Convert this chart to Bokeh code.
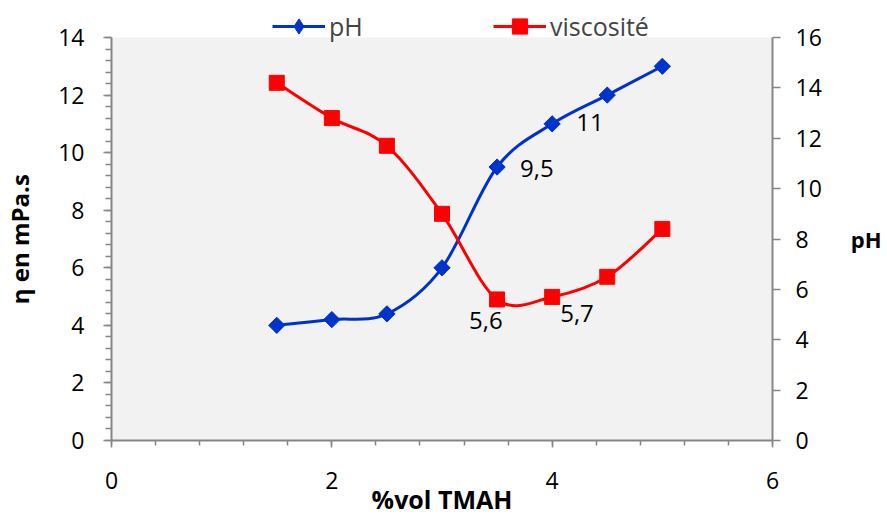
import numpy as np
from bokeh.plotting import figure
from bokeh.models import (Range1d, LinearAxis, SingleIntervalTicker, BoxAnnotation,
                          Legend, LegendItem, ColumnDataSource)
from bokeh.core.properties import value
from bokeh.embed import file_html
from bokeh.resources import INLINE

# ---------------- data ----------------
vol_tmah = [1.5, 2.0, 2.5, 3.0, 3.5, 4.0, 4.5, 5.0]
ph_values = [4.0, 4.2, 4.4, 6.0, 9.5, 11.0, 12.0, 13.0]
viscosity_values = [14.2, 12.8, 11.7, 9.0, 5.6, 5.7, 6.5, 8.4]
x_limits = (0, 6)
left_limits = (0, 14)
right_limits = (0, 16)
ph_labelled = [4, 5]
visc_labelled = [4, 5]
series_names = ["pH", "viscosité"]
x_title = "%vol TMAH"
left_title = "η en mPa.s"
right_title = "pH"

# ---------------- styles ----------------
BLUE = "#0033cc"
RED = "#ff0000"
GRID = "#8c8c8c"
AXIS = "#868686"
FONT = "Open Sans"
W, H = 887, 518
BORDER_L, BORDER_R, BORDER_B = 110, 115, 78
PLOT_TOP = 37          # px from top where the plot area starts
FRAME_H = H - BORDER_B
AREA_H = FRAME_H - PLOT_TOP
stretch = FRAME_H / AREA_H
NAN = [float("nan")]


def smooth_segments(xs, ys):
    xs = np.asarray(xs, float)
    ys = np.asarray(ys, float)
    n = len(xs)
    xp = np.concatenate([[xs[0]], xs, [xs[-1]]])
    yp = np.concatenate([[ys[0]], ys, [ys[-1]]])
    return dict(
        x0=xs[:-1], y0=ys[:-1], x1=xs[1:], y1=ys[1:],
        cx0=xs[:-1] + (xp[2:n + 1] - xp[0:n - 1]) / 6.0,
        cy0=ys[:-1] + (yp[2:n + 1] - yp[0:n - 1]) / 6.0,
        cx1=xs[1:] - (xp[3:n + 2] - xp[1:n]) / 6.0,
        cy1=ys[1:] - (yp[3:n + 2] - yp[1:n]) / 6.0,
    )


p = figure(width=W, height=H,
           x_range=Range1d(*x_limits),
           y_range=Range1d(left_limits[0], left_limits[1] * stretch),
           output_backend="svg", toolbar_location=None,
           min_border_left=BORDER_L, min_border_right=BORDER_R,
           min_border_top=0, min_border_bottom=BORDER_B,
           background_fill_color="white", border_fill_color="white",
           outline_line_color=None)
p.extra_y_ranges = {"right": Range1d(right_limits[0], right_limits[1] * stretch)}

# plot area background
p.add_layout(BoxAnnotation(left=x_limits[0], right=x_limits[1],
                           bottom=left_limits[0], top=left_limits[1],
                           fill_color="#f2f2f2", fill_alpha=1, line_color=None,
                           level="underlay"))

right_axis = LinearAxis(y_range_name="right",
                        ticker=SingleIntervalTicker(interval=2, num_minor_ticks=0))
p.add_layout(right_axis, "right")

left_axis = p.left[0]
bottom_axis = p.below[0]
left_axis.ticker = SingleIntervalTicker(interval=2, num_minor_ticks=5)
bottom_axis.ticker = SingleIntervalTicker(interval=2, num_minor_ticks=5)
left_axis.bounds = left_limits
right_axis.bounds = right_limits

for ax in (left_axis, bottom_axis, right_axis):
    ax.axis_line_color = AXIS
    ax.axis_line_width = 2
    ax.major_tick_line_color = AXIS
    ax.major_tick_line_width = 1.5
    ax.minor_tick_line_color = AXIS
    ax.minor_tick_line_width = 1.5
    ax.major_tick_in = 0
    ax.minor_tick_in = 0
    ax.major_label_text_font = FONT
    ax.major_label_text_font_size = "23px"
    ax.major_label_text_color = "#000000"
    ax.axis_label_text_font = FONT
    ax.axis_label_text_font_style = "bold"
    ax.axis_label_text_color = "#000000"

left_axis.major_tick_out = 8
left_axis.minor_tick_out = 6
left_axis.major_label_standoff = 19
# trailing no-break spaces centre the visible title on the plot area, not the frame
left_axis.axis_label = left_title + "\u00a0" * 6
left_axis.axis_label_text_font_size = "24px"
left_axis.axis_label_standoff = 19

bottom_axis.major_tick_out = 7
bottom_axis.minor_tick_out = 5
bottom_axis.major_label_standoff = 24
bottom_axis.axis_label = x_title
bottom_axis.axis_label_text_font_size = "25px"
bottom_axis.axis_label_standoff = -10

right_axis.major_tick_out = 8
right_axis.minor_tick_out = 0
right_axis.major_label_standoff = 15
right_axis.axis_label = "\n" + right_title
right_axis.axis_label_text_font_size = "22px"
right_axis.axis_label_standoff = 26
try:
    right_axis.axis_label_orientation = "horizontal"
except Exception:
    pass

p.xgrid.visible = False
p.ygrid.ticker = left_axis.ticker
p.ygrid.bounds = x_limits
p.ygrid.grid_line_color = GRID
p.ygrid.grid_line_width = 2

# smooth lines
p.bezier(source=ColumnDataSource(smooth_segments(vol_tmah, ph_values)),
         x0="x0", y0="y0", x1="x1", y1="y1",
         cx0="cx0", cy0="cy0", cx1="cx1", cy1="cy1",
         line_color=BLUE, line_width=3)
p.scatter(vol_tmah, ph_values, marker="square", angle=np.pi / 4, size=11.5,
          fill_color=BLUE, line_color=BLUE)
p.bezier(source=ColumnDataSource(smooth_segments(vol_tmah, viscosity_values)),
         x0="x0", y0="y0", x1="x1", y1="y1",
         cx0="cx0", cy0="cy0", cx1="cx1", cy1="cy1",
         line_color=RED, line_width=3, y_range_name="right")
p.scatter(vol_tmah, viscosity_values, marker="square", size=15,
          fill_color=RED, line_color=RED, y_range_name="right")


def fmt(v):
    return ("%g" % v).replace(".", ",")


# data labels
ph_offsets = [(23, 1), (24, -1)]
visc_offsets = [(-28, 21), (8, 17)]
p.text(x=[vol_tmah[i] for i in ph_labelled], y=[ph_values[i] for i in ph_labelled],
       text=[fmt(ph_values[i]) for i in ph_labelled],
       x_offset=[o[0] for o in ph_offsets], y_offset=[o[1] for o in ph_offsets],
       text_font=value(FONT), text_font_size="24px", text_color="#000000",
       text_align="left", text_baseline="alphabetic")
p.text(x=[vol_tmah[i] for i in visc_labelled], y=[viscosity_values[i] for i in visc_labelled],
       text=[fmt(viscosity_values[i]) for i in visc_labelled],
       x_offset=[o[0] for o in visc_offsets], y_offset=[o[1] for o in visc_offsets],
       text_font=value(FONT), text_font_size="24px", text_color="#000000",
       text_align="left", text_baseline="alphabetic", y_range_name="right")

# legend swatches (no data drawn, legend only)
leg_ph_line = p.line(x=NAN, y=NAN, line_color=BLUE, line_width=3)
leg_ph_mark = p.scatter(x=NAN, y=NAN, marker="diamond", fill_color=BLUE, line_color=BLUE)
leg_visc_line = p.line(x=NAN, y=NAN, line_color=RED, line_width=3)
leg_visc_mark = p.scatter(x=NAN, y=NAN, marker="square", fill_color=RED, line_color=RED)
for item, xloc in ((LegendItem(label=series_names[0], renderers=[leg_ph_line, leg_ph_mark]), 161),
                   (LegendItem(label=series_names[1], renderers=[leg_visc_line, leg_visc_mark]), 382)):
    lg = Legend(items=[item], location=(xloc, FRAME_H - 26 - 19), orientation="horizontal",
                padding=0, margin=0, spacing=0, glyph_width=53, glyph_height=38,
                label_standoff=4, label_text_font=FONT, label_text_font_size="25px",
                background_fill_alpha=0, border_line_color=None)
    p.add_layout(lg, "center")

open("out.html", "w").write(file_html(p, INLINE))
